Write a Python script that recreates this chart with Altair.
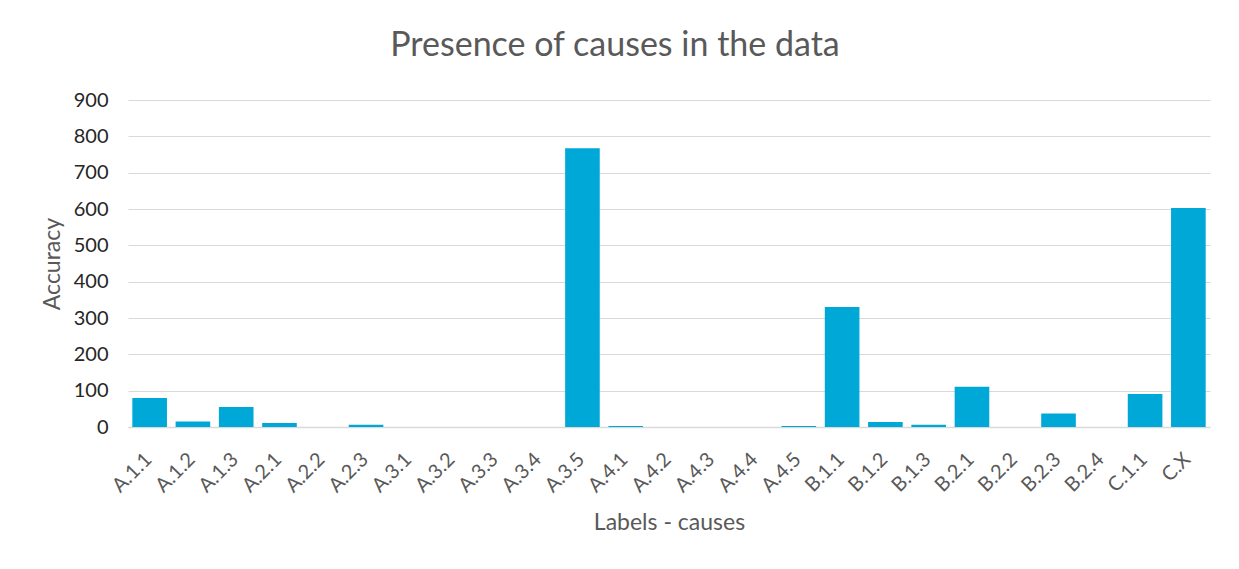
import altair as alt
import pandas as pd

labels = ["A.1.1", "A.1.2", "A.1.3", "A.2.1", "A.2.2", "A.2.3", "A.3.1", "A.3.2",
          "A.3.3", "A.3.4", "A.3.5", "A.4.1", "A.4.2", "A.4.3", "A.4.4", "A.4.5",
          "B.1.1", "B.1.2", "B.1.3", "B.2.1", "B.2.2", "B.2.3", "B.2.4", "C.1.1", "C.X"]
counts = [80, 15, 55, 11, 0, 6, 0, 0,
          0, 0, 767, 3, 0, 0, 0, 3,
          330, 14, 6, 111, 0, 37, 0, 91, 603]

df = pd.DataFrame({"label": labels, "count": counts})
FONT = "Lato"

chart = alt.Chart(df).mark_bar(color="#00A8D8").encode(
    x=alt.X("label:N", sort=labels, title="Labels - causes",
            scale=alt.Scale(paddingInner=0.2, paddingOuter=0.1),
            axis=alt.Axis(labelAngle=-45, labelFontSize=20, labelColor="#595959",
                          labelFont=FONT, labelPadding=22, labelOffset=-8, ticks=False,
                          domainColor="#d9d9d9", domainWidth=1.5,
                          titleFontSize=23, titleFont=FONT, titleColor="#595959",
                          titleFontWeight="normal", titlePadding=16)),
    y=alt.Y("count:Q", title="Accuracy",
            scale=alt.Scale(domain=[0, 900], nice=False),
            axis=alt.Axis(values=list(range(0, 901, 100)), labelFontSize=20,
                          labelColor="#262626", labelFont=FONT, labelPadding=20,
                          ticks=False, domain=False, gridColor="#d9d9d9",
                          titleFontSize=23, titleFont=FONT, titleColor="#595959",
                          titleFontWeight="normal", titlePadding=9)),
).properties(
    width=1082, height=327,
    title=alt.TitleParams("Presence of causes in the data", fontSize=34, font=FONT,
                          color="#595959", fontWeight="normal", anchor="middle",
                          dx=-54, offset=27),
    autosize=alt.AutoSizeParams(type="none"),
    padding={"left": 120, "top": 92, "right": 20, "bottom": 126},
).configure_view(stroke=None)

chart.save("out.html", embed_options={"renderer": "svg", "actions": False})
